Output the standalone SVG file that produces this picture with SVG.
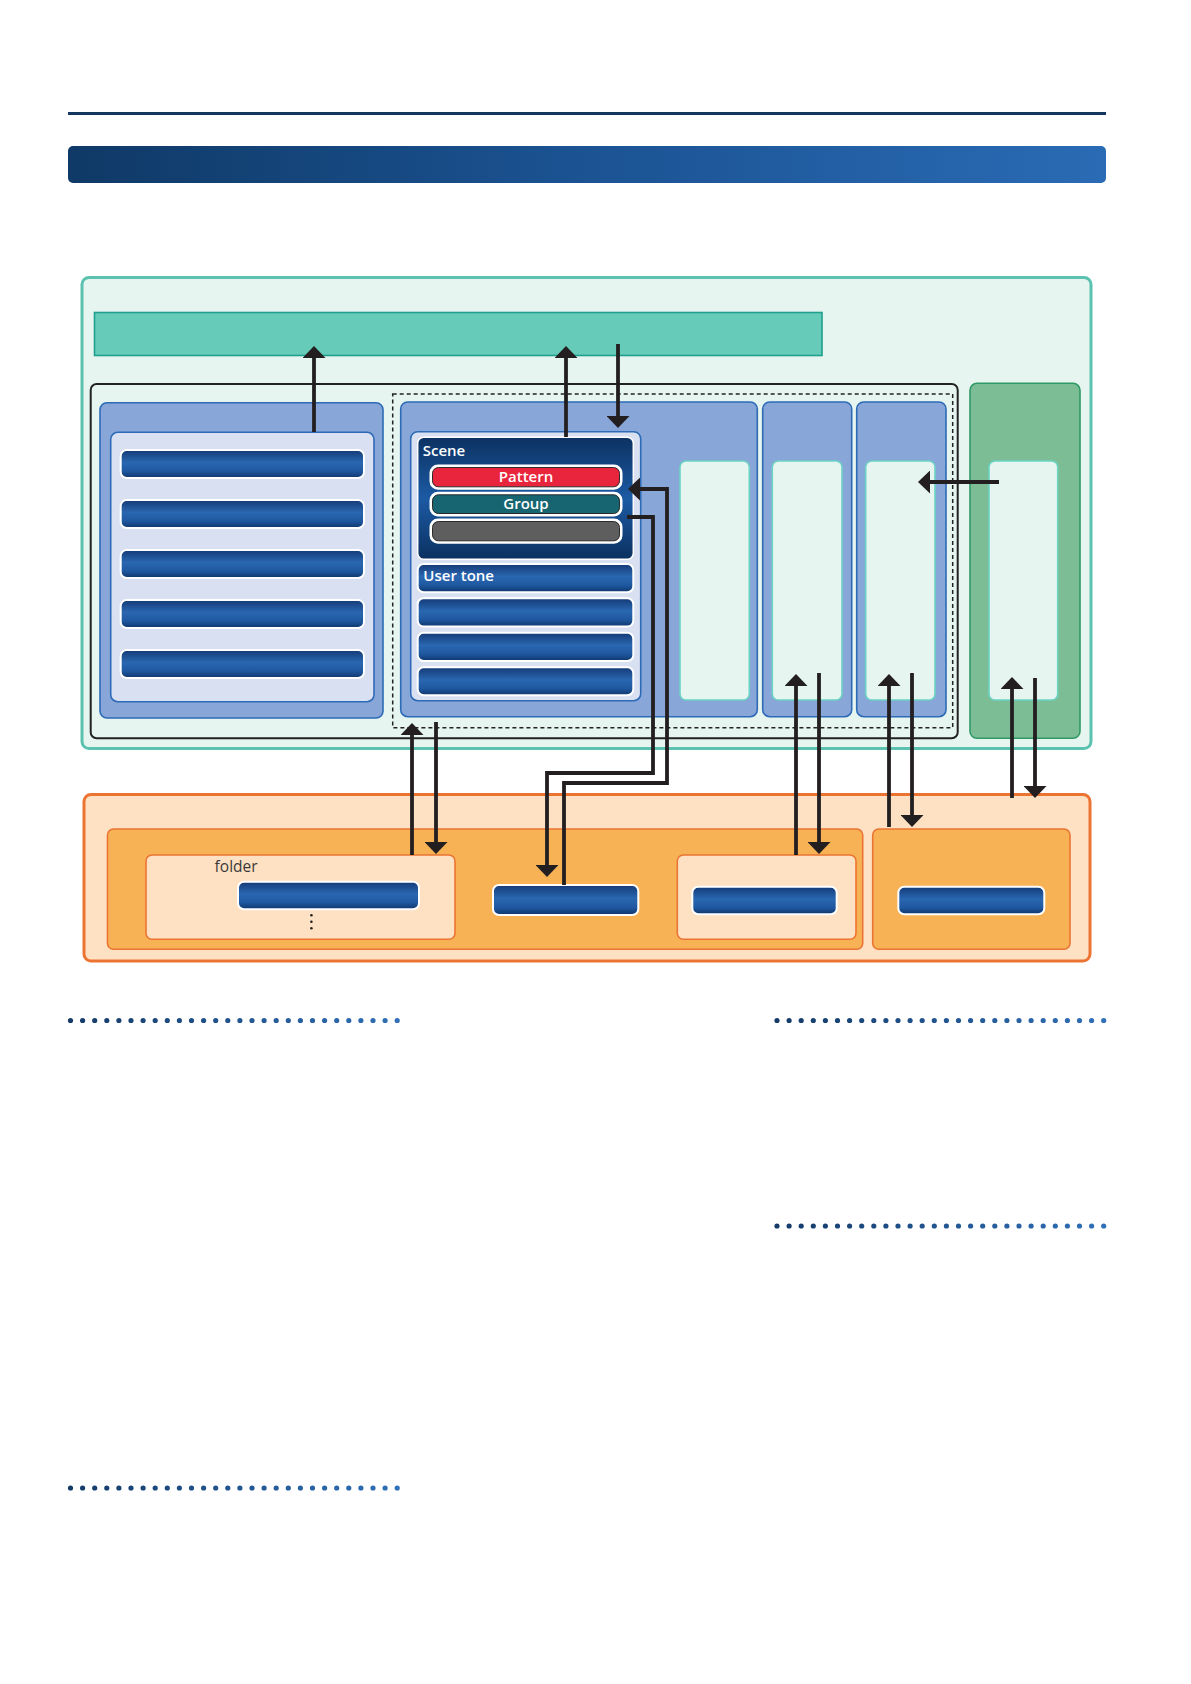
<svg xmlns="http://www.w3.org/2000/svg" width="1191" height="1684" viewBox="0 0 1191 1684">
<defs>
  <linearGradient id="hdr" x1="0" y1="0" x2="1" y2="0">
    <stop offset="0" stop-color="#0f3966"/>
    <stop offset="0.5" stop-color="#1b5393"/>
    <stop offset="1" stop-color="#2a6bb5"/>
  </linearGradient>
  <linearGradient id="bar" x1="0" y1="0" x2="0" y2="1">
    <stop offset="0" stop-color="#143a76"/>
    <stop offset="0.45" stop-color="#2a67b1"/>
    <stop offset="0.75" stop-color="#1f58a0"/>
    <stop offset="1" stop-color="#0f366c"/>
  </linearGradient>
  <linearGradient id="scene" x1="0" y1="0" x2="0" y2="1">
    <stop offset="0" stop-color="#0c3262"/>
    <stop offset="0.5" stop-color="#1c5aa4"/>
    <stop offset="1" stop-color="#0b3160"/>
  </linearGradient>
  <linearGradient id="dotsL" gradientUnits="userSpaceOnUse" x1="70" y1="0" x2="398" y2="0">
    <stop offset="0" stop-color="#143a68"/>
    <stop offset="1" stop-color="#2f70b8"/>
  </linearGradient>
  <linearGradient id="dotsR" gradientUnits="userSpaceOnUse" x1="776" y1="0" x2="1104" y2="0">
    <stop offset="0" stop-color="#143a68"/>
    <stop offset="1" stop-color="#2f70b8"/>
  </linearGradient>
  <marker id="ah" viewBox="0 0 12 23" markerWidth="12" markerHeight="23" refX="2" refY="11.5" orient="auto" markerUnits="userSpaceOnUse">
    <path d="M0,0 L12,11.5 L0,23 Z" fill="#231f20"/>
  </marker>
</defs>
<style>
  .bar { fill: url(#bar); stroke: #ffffff; stroke-width: 2; }
  .bpanel { fill: #88a6d8; stroke: #2d6bb6; stroke-width: 1.6; }
  .lpanel { fill: #d9e0f2; stroke: #2d6bb6; stroke-width: 1.6; }
  .tile { fill: #e6f5f0; stroke: #6bd3c3; stroke-width: 1.6; }
  .org { stroke: #ec7432; stroke-width: 1.6; }
  .conn { fill: none; stroke: #231f20; stroke-width: 3.8; stroke-linejoin: miter; }
  .lbl { font-family: "Open Sans", "Liberation Sans", sans-serif; font-weight: 600; fill: #ffffff; font-size: 15px; }
  .pill-in { fill: none; stroke: #2a2a2a; stroke-width: 1; }
  .dots { fill: none; stroke-width: 5.2; stroke-linecap: round; stroke-dasharray: 0 12.1; }
</style>

<!-- header -->
<g id="header">
  <rect x="68" y="112" width="1038" height="3" fill="#15375f"/>
  <rect x="68" y="146" width="1038" height="37" rx="5" fill="url(#hdr)"/>
</g>

<!-- upper teal area -->
<g id="memory">
  <rect x="82" y="277.5" width="1009" height="471" rx="7" fill="#e6f5f0" stroke="#5cc2b0" stroke-width="3"/>
</g>
<g id="top-bar">
  <rect x="94.5" y="312.5" width="727.5" height="43" fill="#66cbb8" stroke="#1fa08e" stroke-width="1.6"/>
</g>
<g id="frame">
  <rect x="90.7" y="384" width="867" height="354.3" rx="6" fill="none" stroke="#222222" stroke-width="2"/>
  <rect x="392.7" y="394" width="560" height="333.7" fill="none" stroke="#222222" stroke-width="1.5" stroke-dasharray="4 3"/>
</g>

<!-- left panel -->
<g id="left-panel">
  <rect class="bpanel" x="100" y="402.7" width="283" height="315.3" rx="7"/>
  <rect class="lpanel" x="110.7" y="432.3" width="263.3" height="269.4" rx="7"/>
  <rect class="bar" x="120.7" y="450" width="243.3" height="28" rx="6"/>
  <rect class="bar" x="120.7" y="500" width="243.3" height="28" rx="6"/>
  <rect class="bar" x="120.7" y="550" width="243.3" height="28" rx="6"/>
  <rect class="bar" x="120.7" y="600" width="243.3" height="28" rx="6"/>
  <rect class="bar" x="120.7" y="650" width="243.3" height="28" rx="6"/>
</g>

<!-- middle panel -->
<g id="middle-panel">
  <rect class="bpanel" x="400.7" y="402" width="356.6" height="314.7" rx="7"/>
  <rect class="lpanel" x="410.7" y="431.7" width="230" height="269" rx="7"/>
  <rect class="tile" x="680" y="461" width="69.3" height="239" rx="6"/>
</g>
<g id="scene">
  <rect x="417.7" y="437.3" width="215.6" height="122" rx="6" fill="url(#scene)" stroke="#ffffff" stroke-width="1.5"/>
  <text class="lbl" x="422.7" y="456">Scene</text>
</g>
<g id="pattern">
  <rect x="431" y="466" width="190" height="22.3" rx="7" fill="#e8253c" stroke="#ffffff" stroke-width="3"/>
  <rect class="pill-in" x="432.5" y="467.5" width="187" height="19.3" rx="6"/>
  <text class="lbl" x="526" y="482" text-anchor="middle">Pattern</text>
</g>
<g id="group">
  <rect x="431" y="493.3" width="190" height="21.7" rx="7" fill="#166570" stroke="#ffffff" stroke-width="3"/>
  <rect class="pill-in" x="432.5" y="494.8" width="187" height="18.7" rx="6"/>
  <text class="lbl" x="526" y="508.5" text-anchor="middle">Group</text>
</g>
<g id="gray-item">
  <rect x="431" y="520" width="190" height="22.3" rx="7" fill="#5e5e5e" stroke="#ffffff" stroke-width="3"/>
  <rect class="pill-in" x="432.5" y="521.5" width="187" height="19.3" rx="6"/>
</g>
<g id="user-tone">
  <rect class="bar" x="417.7" y="564" width="215.6" height="28.3" rx="6"/>
  <text class="lbl" x="423.3" y="581">User tone</text>
  <rect class="bar" x="417.7" y="598.3" width="215.6" height="28.3" rx="6"/>
  <rect class="bar" x="417.7" y="632.7" width="215.6" height="28.3" rx="6"/>
  <rect class="bar" x="417.7" y="667.3" width="215.6" height="28" rx="6"/>
</g>

<g id="panel-2">
  <rect class="bpanel" x="762.7" y="402" width="89" height="314.7" rx="7"/>
  <rect class="tile" x="772.3" y="461" width="69.7" height="239" rx="6"/>
</g>
<g id="panel-3">
  <rect class="bpanel" x="856.7" y="402" width="89.3" height="314.7" rx="7"/>
  <rect class="tile" x="865.7" y="461" width="69.3" height="239" rx="6"/>
</g>
<g id="green-panel">
  <rect x="970" y="383.3" width="110" height="355" rx="7" fill="#7dbd95" stroke="#2f9a66" stroke-width="1.6"/>
  <rect class="tile" x="989" y="461" width="68.7" height="239" rx="6"/>
</g>

<!-- lower orange area -->
<g id="storage">
  <rect x="84" y="794.5" width="1006" height="166.5" rx="7" fill="#fde1c2" stroke="#ec7432" stroke-width="3"/>
  <rect class="org" x="107.5" y="829" width="755.2" height="120.3" rx="6" fill="#f7b256"/>
  <rect class="org" x="872.7" y="829" width="197.3" height="120.3" rx="6" fill="#f7b256"/>
</g>
<g id="folder">
  <rect class="org" x="146" y="855" width="309" height="84.3" rx="6" fill="#fde1c2"/>
  <text x="214.6" y="871.7" font-family="'Open Sans', 'Liberation Sans', sans-serif" font-size="15.5" fill="#3a3a3a">folder</text>
  <rect class="bar" x="238" y="881.7" width="181" height="27.6" rx="6"/>
  <circle cx="311.4" cy="915.3" r="1.3" fill="#222"/>
  <circle cx="311.4" cy="921.8" r="1.3" fill="#222"/>
  <circle cx="311.4" cy="928.3" r="1.3" fill="#222"/>
</g>
<g id="set-bar">
  <rect class="bar" x="493" y="885" width="145.3" height="30" rx="6"/>
</g>
<g id="box-3">
  <rect class="org" x="677.3" y="855" width="178.7" height="84.3" rx="6" fill="#fde1c2"/>
  <rect class="bar" x="692.3" y="886.7" width="144.4" height="27.6" rx="6"/>
</g>
<g id="box-4">
  <rect class="bar" x="898.3" y="886.7" width="146" height="27.6" rx="6"/>
</g>

<!-- connectors -->
<g id="connectors">
  <path class="conn" d="M314,432 V356" marker-end="url(#ah)"/>
  <path class="conn" d="M566,437 V356" marker-end="url(#ah)"/>
  <path class="conn" d="M618,344 V418" marker-end="url(#ah)"/>
  <path class="conn" d="M564,885 V783 H667 V489 H638" marker-end="url(#ah)"/>
  <path class="conn" d="M627,517 H653 V773 H547 V867" marker-end="url(#ah)"/>
  <path class="conn" d="M412,855 V733" marker-end="url(#ah)"/>
  <path class="conn" d="M436,722 V844" marker-end="url(#ah)"/>
  <path class="conn" d="M796,855 V684" marker-end="url(#ah)"/>
  <path class="conn" d="M819,673 V844" marker-end="url(#ah)"/>
  <path class="conn" d="M889,827 V684" marker-end="url(#ah)"/>
  <path class="conn" d="M912,673 V817" marker-end="url(#ah)"/>
  <path class="conn" d="M1012,798 V687" marker-end="url(#ah)"/>
  <path class="conn" d="M1035,678 V788" marker-end="url(#ah)"/>
  <path class="conn" d="M999,482 H928" marker-end="url(#ah)"/>
</g>

<!-- dotted separators -->
<g id="separators">
  <line class="dots" x1="70.5" y1="1020.5" x2="397.3" y2="1020.5" stroke="url(#dotsL)"/>
  <line class="dots" x1="777" y1="1020.5" x2="1103.8" y2="1020.5" stroke="url(#dotsR)"/>
  <line class="dots" x1="777" y1="1226" x2="1103.8" y2="1226" stroke="url(#dotsR)"/>
  <line class="dots" x1="70.5" y1="1488" x2="397.3" y2="1488" stroke="url(#dotsL)"/>
</g>
</svg>
